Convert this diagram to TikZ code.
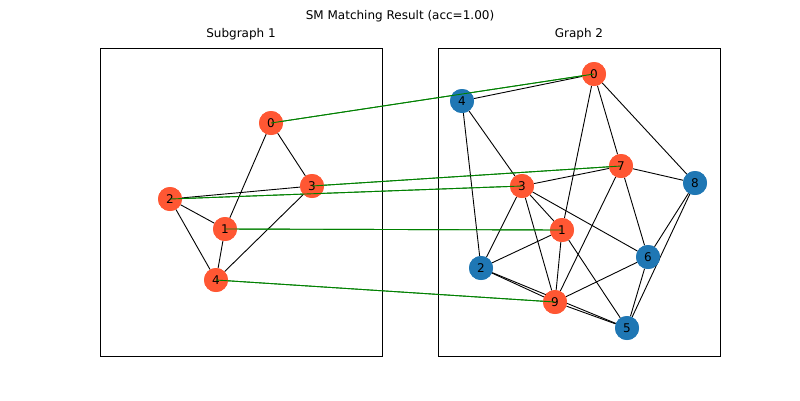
\documentclass[tikz,border=0pt]{standalone}
\usepackage{fontspec}
\setmainfont{DejaVu Sans}
\begin{document}
\begin{tikzpicture}[x=1pt,y=-1pt,
  nd/.style={circle,minimum size=24pt,inner sep=0pt,font=\fontsize{12}{12}\selectfont},
  o/.style={nd,fill=orR},b/.style={nd,fill=blB},
  e/.style={black,line width=0.9pt},m/.style={green!50!black,line width=0.9pt}]
\definecolor{orR}{HTML}{FF5733}\definecolor{blB}{HTML}{1F77B4}
\useasboundingbox (0,0) rectangle (800,400);
\node[font=\fontsize{12}{12}\selectfont] (t) at (400,16) {SM Matching Result (acc=1.00)};
\node[font=\fontsize{12}{12}\selectfont] (t1) at (241,34) {Subgraph 1};
\node[font=\fontsize{12}{12}\selectfont] (t2) at (579,34) {Graph 2};
\draw[line width=0.8pt] (100,48) rectangle (382,356);
\draw[line width=0.8pt] (438,48) rectangle (720,356);
% left
\node[o] (a0) at (271,123) {0};
\node[o] (a3) at (312,186) {3};
\node[o] (a2) at (170,199) {2};
\node[o] (a1) at (225,229) {1};
\node[o] (a4) at (216,280) {4};
% right
\node[o] (b0) at (594,74) {0};
\node[b] (b4) at (462,101) {4};
\node[o] (b7) at (621,166) {7};
\node[b] (b8) at (695,183) {8};
\node[o] (b3) at (522,186) {3};
\node[o] (b1) at (562,230) {1};
\node[b] (b6) at (648,257) {6};
\node[b] (b2) at (481,268) {2};
\node[o] (b9) at (555,302) {9};
\node[b] (b5) at (627,328) {5};
\begin{scope}[on background layer/.style={}]
\end{scope}
\foreach \u/\v in {a0/a1,a0/a3,a2/a3,a2/a1,a2/a4,a1/a4,a3/a4,
 b4/b0,b0/b1,b0/b7,b0/b8,b4/b3,b4/b2,b3/b7,b7/b8,b7/b6,b7/b9,b3/b2,b3/b9,b3/b1,b3/b6,
 b1/b2,b1/b9,b1/b5,b2/b9,b2/b5,b9/b6,b9/b5,b6/b8,b6/b5,b8/b5}
  \draw[e] (\u) -- (\v);
\foreach \u/\v in {a0/b0,a3/b7,a2/b3,a1/b1,a4/b9}
  \draw[m] (\u.center) -- (\v.center);
% redraw nodes on top
\foreach \n/\c/\l/\x/\y in {a0/orR/0/271/123,a3/orR/3/312/186,a2/orR/2/170/199,a1/orR/1/225/229,a4/orR/4/216/280,
 b0/orR/0/594/74,b4/blB/4/462/101,b7/orR/7/621/166,b8/blB/8/695/183,b3/orR/3/522/186,b1/orR/1/562/230,b6/blB/6/648/257,b2/blB/2/481/268,b9/orR/9/555/302,b5/blB/5/627/328}
  \node[nd,fill=\c] (c\n) at (\x,\y) {\l};
\foreach \u/\v in {a0/b0,a3/b7,a2/b3,a1/b1,a4/b9}
  \draw[m] (\u.center) -- (\v.center);
\end{tikzpicture}
\end{document}
